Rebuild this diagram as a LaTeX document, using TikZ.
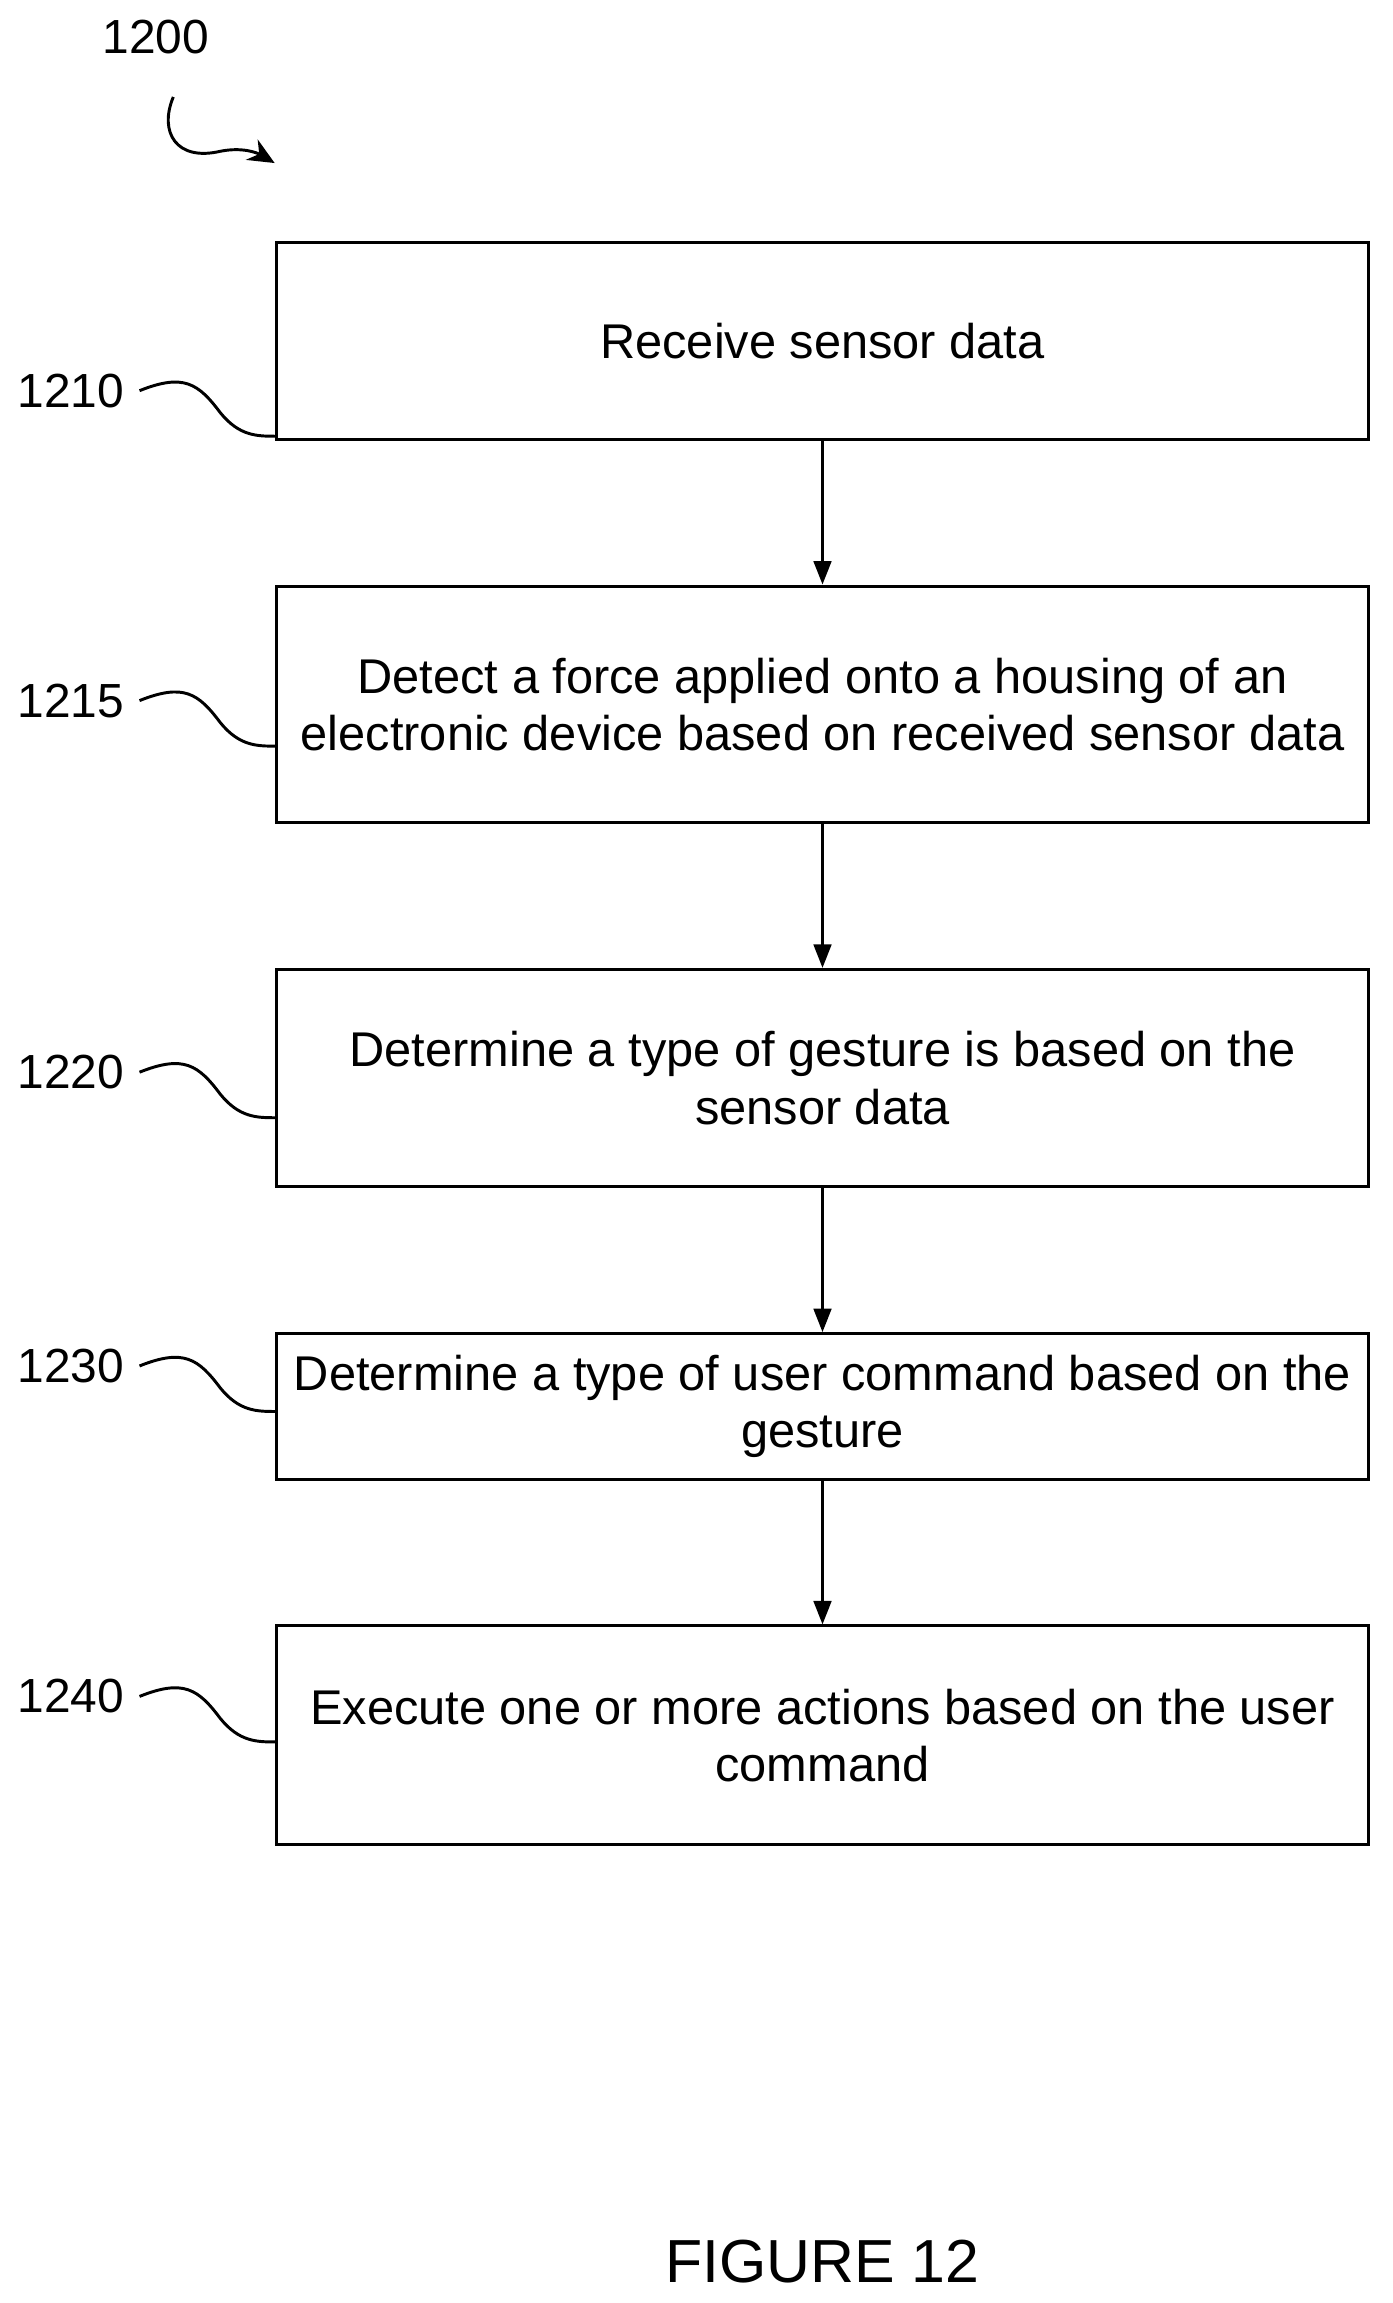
\documentclass[tikz,border=0pt]{standalone}
\usepackage{fontspec}
\setmainfont{Liberation Sans}
\usetikzlibrary{arrows.meta}
\begin{document}
\begin{tikzpicture}[x=0.5pt,y=-0.5pt,
  box/.style={draw,line width=1pt,inner sep=0pt,align=center,font=\fontsize{16.6}{19.5}\selectfont},
  lab/.style={font=\fontsize{16.3}{18}\selectfont},
  arr/.style={line width=1pt,-{Triangle[length=8pt,width=6pt]}},
  sq/.style={line width=1pt}]
\useasboundingbox (0,0) rectangle (948,1568);
\node[box,minimum width=372pt,minimum height=67pt] (b1) at (560,232) {Receive sensor data};
\node[box,minimum width=372pt,minimum height=80.5pt] (b2) at (560,479.5) {Detect a force applied onto a housing of an\\electronic device based on received sensor data};
\node[box,minimum width=372pt,minimum height=74pt] (b3) at (560,734) {Determine a type of gesture is based on the\\sensor data};
\node[box,minimum width=372pt,minimum height=49.5pt] (b4) at (560,957.5) {Determine a type of user command based on the\\gesture};
\node[box,minimum width=372pt,minimum height=74.5pt] (b5) at (560,1181.5) {Execute one or more actions based on the user\\command};
\draw[arr] (b1) -- (b2);
\draw[arr] (b2) -- (b3);
\draw[arr] (b3) -- (b4);
\draw[arr] (b4) -- (b5);
\node[lab] (l0) at (106,25) {1200};
\coordinate (c0) at (187,111);
\draw[sq,-{Stealth[length=9pt,width=8pt]}] (118,66) .. controls (108,90) and (120,110) .. (150,103) .. controls (165,100) and (175,104) .. (c0);
\foreach \n/\t/\y/\b in {l1/1210/266/b1, l2/1215/477/b2, l3/1220/730/b3, l4/1230/930/b4, l5/1240/1155/b5}{
  \node[lab,anchor=east,inner sep=0pt] (\n) at (85,\y) {\t};
  \coordinate (\n e) at (188,\y+31);
  \draw[sq] (\n.east) ++(10,0) .. controls (125,\y-12) and (135,\y-5) .. (150,\y+15) .. controls (163,\y+31) and (175,\y+31) .. (\n e);
}
\node[font=\fontsize{20.7}{24}\selectfont] (fig) at (560,1540) {FIGURE 12};
\end{tikzpicture}
\end{document}
